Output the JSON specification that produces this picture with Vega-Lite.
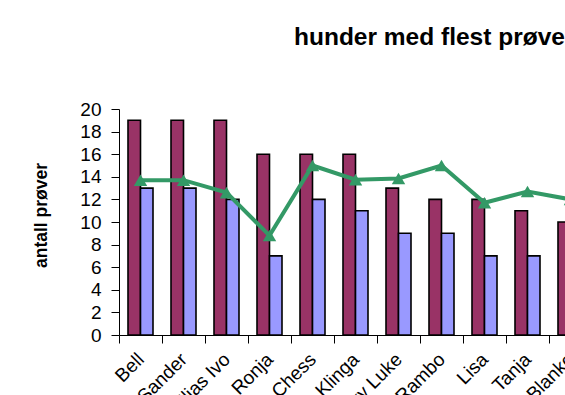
{
  "$schema": "https://vega.github.io/schema/vega-lite/v6.json",
  "width": 446,
  "height": 226,
  "autosize": {"type": "none"},
  "padding": {"left": 119, "top": 109, "right": 0, "bottom": 60},
  "background": "white",
  "config": {"view": {"stroke": null}, "font": "Liberation Sans"},
  "title": {
    "text": "hunder med flest prøver",
    "font": "Liberation Sans",
    "fontSize": 24.5,
    "fontWeight": "bold",
    "color": "black",
    "anchor": "start",
    "frame": "group",
    "dx": 175,
    "offset": 50
  },
  "datasets": {
    "bars": [
      {"hund": "Bell", "serie": "prøver", "antall": 19},
      {"hund": "Bell", "serie": "bestått", "antall": 13},
      {"hund": "Sander", "serie": "prøver", "antall": 19},
      {"hund": "Sander", "serie": "bestått", "antall": 13},
      {"hund": "Elias Ivo", "serie": "prøver", "antall": 19},
      {"hund": "Elias Ivo", "serie": "bestått", "antall": 12},
      {"hund": "Ronja", "serie": "prøver", "antall": 16},
      {"hund": "Ronja", "serie": "bestått", "antall": 7},
      {"hund": "Chess", "serie": "prøver", "antall": 16},
      {"hund": "Chess", "serie": "bestått", "antall": 12},
      {"hund": "Klinga", "serie": "prøver", "antall": 16},
      {"hund": "Klinga", "serie": "bestått", "antall": 11},
      {"hund": "Lucky Luke", "serie": "prøver", "antall": 13},
      {"hund": "Lucky Luke", "serie": "bestått", "antall": 9},
      {"hund": "Rambo", "serie": "prøver", "antall": 12},
      {"hund": "Rambo", "serie": "bestått", "antall": 9},
      {"hund": "Lisa", "serie": "prøver", "antall": 12},
      {"hund": "Lisa", "serie": "bestått", "antall": 7},
      {"hund": "Tanja", "serie": "prøver", "antall": 11},
      {"hund": "Tanja", "serie": "bestått", "antall": 7},
      {"hund": "Blanko", "serie": "prøver", "antall": 10},
      {"hund": "Blanko", "serie": "bestått", "antall": 6}
    ],
    "linje": [
      {"hund": "Bell", "andel": 13.7},
      {"hund": "Sander", "andel": 13.7},
      {"hund": "Elias Ivo", "andel": 12.6},
      {"hund": "Ronja", "andel": 8.8},
      {"hund": "Chess", "andel": 15.0},
      {"hund": "Klinga", "andel": 13.75},
      {"hund": "Lucky Luke", "andel": 13.85},
      {"hund": "Rambo", "andel": 15.0},
      {"hund": "Lisa", "andel": 11.7},
      {"hund": "Tanja", "andel": 12.7},
      {"hund": "Blanko", "andel": 12.0}
    ]
  },
  "layer": [
    {
      "data": {"name": "bars"},
      "mark": {"type": "bar", "stroke": "black", "strokeWidth": 1.6},
      "encoding": {
        "x": {
          "field": "hund",
          "type": "nominal",
          "scale": {
            "domain": ["Bell", "Sander", "Elias Ivo", "Ronja", "Chess", "Klinga", "Lucky Luke", "Rambo", "Lisa", "Tanja", "Blanko"],
            "range": [0, 473],
            "paddingInner": 0,
            "paddingOuter": 0
          },
          "axis": {
            "title": null,
            "labelAngle": -45,
            "labelAlign": "right",
            "labelBaseline": "middle",
            "labelFontSize": 19,
            "labelColor": "black",
            "labelFont": "Liberation Sans",
            "labelPadding": 13,
            "labelOverlap": false,
            "tickBand": "extent",
            "tickSize": 8,
            "tickColor": "black",
            "domainColor": "black",
            "grid": false
          }
        },
        "xOffset": {
          "field": "serie",
          "type": "nominal",
          "sort": ["prøver", "bestått"],
          "scale": {"paddingInner": 0, "paddingOuter": 0.72}
        },
        "y": {
          "field": "antall",
          "type": "quantitative",
          "scale": {"domain": [0, 20], "nice": false},
          "axis": {
            "values": [0, 2, 4, 6, 8, 10, 12, 14, 16, 18, 20],
            "tickCount": 20,
            "title": "antall prøver",
            "titleFontSize": 17.5,
            "titleFontWeight": "bold",
            "titleColor": "black",
            "titleFont": "Liberation Sans",
            "titlePadding": 29,
            "titleY": 106,
            "labelFontSize": 19,
            "labelColor": "black",
            "labelFont": "Liberation Sans",
            "labelPadding": 10,
            "labelOverlap": false,
            "tickSize": 8,
            "tickColor": "black",
            "domainColor": "black",
            "grid": false
          }
        },
        "color": {
          "field": "serie",
          "type": "nominal",
          "scale": {"domain": ["prøver", "bestått"], "range": ["#993366", "#9999FF"]},
          "legend": null
        }
      }
    },
    {
      "data": {"name": "linje"},
      "mark": {
        "type": "line",
        "color": "#339966",
        "strokeWidth": 4,
        "point": {"shape": "triangle-up", "size": 180, "filled": true, "color": "#339966", "opacity": 1}
      },
      "encoding": {
        "x": {"field": "hund", "type": "nominal"},
        "y": {
          "field": "andel",
          "type": "quantitative",
          "axis": {
            "values": [0, 2, 4, 6, 8, 10, 12, 14, 16, 18, 20],
            "tickCount": 20,
            "title": "antall prøver",
            "titleFontSize": 17.5,
            "titleFontWeight": "bold",
            "titleColor": "black",
            "titleFont": "Liberation Sans",
            "titlePadding": 29,
            "titleY": 106,
            "labelFontSize": 19,
            "labelColor": "black",
            "labelFont": "Liberation Sans",
            "labelPadding": 10,
            "labelOverlap": false,
            "tickSize": 8,
            "tickColor": "black",
            "domainColor": "black",
            "grid": false
          }
        }
      }
    }
  ]
}
